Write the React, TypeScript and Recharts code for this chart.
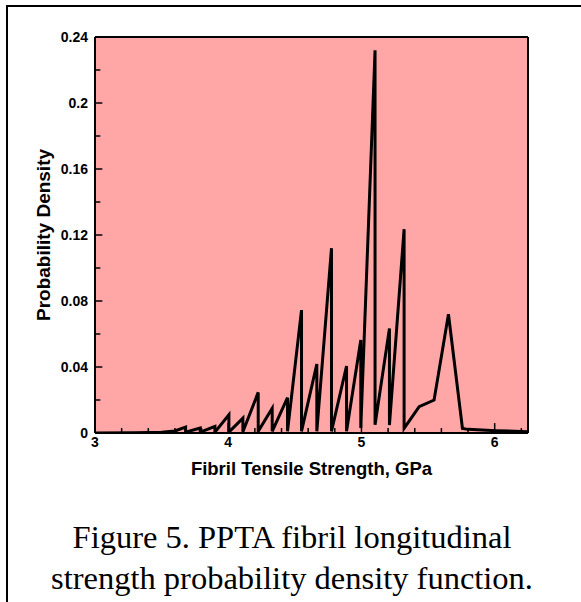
import React from 'react';
import { LineChart, Line, XAxis, YAxis, CartesianGrid, ReferenceLine } from 'recharts';

const strengthGPa = [
  3.0, 3.3, 3.5, 3.6, 3.68, 3.68, 3.79, 3.79, 3.9, 3.9, 4.005, 4.005, 4.11, 4.11,
  4.225, 4.225, 4.33, 4.33, 4.445, 4.445, 4.55, 4.55, 4.665, 4.665, 4.775, 4.775,
  4.888, 4.888, 4.995, 4.995, 5.102, 5.102, 5.21, 5.21, 5.32, 5.32, 5.433, 5.545,
  5.653, 5.758, 5.8, 6.01, 6.25,
];
const density = [
  0, 0.0002, 0.0005, 0.0012, 0.0036, 0.0005, 0.003, 0.0005, 0.004, 0.0005, 0.011, 0.0005,
  0.009, 0.0008, 0.0246, 0.001, 0.015, 0.001, 0.0214, 0.001, 0.0745, 0.001, 0.0418, 0.001,
  0.112, 0.001, 0.0406, 0.001, 0.0564, 0.003, 0.232, 0.005, 0.0634, 0.0048, 0.1235, 0.0028,
  0.016, 0.02, 0.072, 0.0028, 0.0022, 0.0014, 0.0008,
];

const xMajorTicks = [3, 4, 5, 6];
const xMinorTicks = [3.2, 3.4, 3.6, 3.8, 4.2, 4.4, 4.6, 4.8, 5.2, 5.4, 5.6, 5.8, 6.2];
const yMajorTicks = [0, 0.04, 0.08, 0.12, 0.16, 0.2, 0.24];
const yMinorTicks = [0.02, 0.06, 0.1, 0.14, 0.18, 0.22];
const xDomain: [number, number] = [3, 6.25];
const yDomain: [number, number] = [0, 0.24];

const xTitle = 'Fibril Tensile Strength, GPa';
const yTitle = 'Probability Density';
const captionLines = ['Figure 5. PPTA fibril longitudinal', 'strength probability density function.'];

const data = strengthGPa.map((x, i) => ({ x, y: density[i] }));

const tickStyle = {
  fontFamily: '"Liberation Sans", Arial, sans-serif',
  fontWeight: 'bold' as const,
  fontSize: 14,
  fill: '#000',
};

export default function App() {
  const yTickLenMajor = 0.055;
  const yTickLenMinor = 0.04;
  const xTickLenMajor = 0.006;
  const xTickLenMinor = 0.003;
  return (
    <div style={{ position: 'absolute', left: 0, top: 0, width: 581, height: 602, background: '#fff', overflow: 'hidden' }}>
      <div
        style={{
          position: 'absolute', left: 6, top: 5, width: 700, height: 700,
          borderTop: '2px solid #000', borderLeft: '2px solid #000',
        }}
      />
      <div style={{ position: 'absolute', left: 0, top: 0 }}>
        <LineChart width={581} height={480} data={data} margin={{ top: 37, right: 53, bottom: 0, left: 0 }}>
          <CartesianGrid fill="#FFA7A7" horizontal={false} vertical={false} />
          <XAxis
            dataKey="x"
            type="number"
            domain={xDomain}
            ticks={xMajorTicks}
            allowDataOverflow
            height={47}
            tickLine={false}
            tickSize={0}
            tickMargin={4}
            axisLine={{ stroke: '#000', strokeWidth: 2 }}
            tick={tickStyle}
            label={{
              value: xTitle, position: 'insideBottom', offset: 5,
              style: { ...tickStyle, fontSize: 18.5 },
            }}
          />
          <YAxis
            type="number"
            domain={yDomain}
            ticks={yMajorTicks}
            allowDataOverflow
            width={95}
            tickLine={false}
            tickSize={0}
            tickMargin={7}
            axisLine={{ stroke: '#000', strokeWidth: 2 }}
            tick={tickStyle}
            label={{
              value: yTitle, angle: -90, position: 'insideLeft', offset: 43,
              style: { ...tickStyle, fontSize: 19, textAnchor: 'middle' },
            }}
          />
          {yMajorTicks.map((v) => (
            <ReferenceLine key={'ym' + v} ifOverflow="visible" stroke="#000" strokeWidth={1.5}
              segment={[{ x: xDomain[0], y: v }, { x: xDomain[0] + yTickLenMajor, y: v }]} />
          ))}
          {yMinorTicks.map((v) => (
            <ReferenceLine key={'yn' + v} ifOverflow="visible" stroke="#000" strokeWidth={1.5}
              segment={[{ x: xDomain[0], y: v }, { x: xDomain[0] + yTickLenMinor, y: v }]} />
          ))}
          {xMajorTicks.map((v) => (
            <ReferenceLine key={'xm' + v} ifOverflow="visible" stroke="#000" strokeWidth={1.5}
              segment={[{ x: v, y: yDomain[0] }, { x: v, y: yDomain[0] + xTickLenMajor }]} />
          ))}
          {xMinorTicks.map((v) => (
            <ReferenceLine key={'xn' + v} ifOverflow="visible" stroke="#000" strokeWidth={1.5}
              segment={[{ x: v, y: yDomain[0] }, { x: v, y: yDomain[0] + xTickLenMinor }]} />
          ))}
          <ReferenceLine ifOverflow="visible" stroke="#000" strokeWidth={2}
            segment={[{ x: xDomain[0], y: yDomain[1] }, { x: xDomain[1], y: yDomain[1] }]} />
          <ReferenceLine ifOverflow="visible" stroke="#000" strokeWidth={2}
            segment={[{ x: xDomain[1], y: yDomain[0] }, { x: xDomain[1], y: yDomain[1] }]} />
          <Line
            dataKey="y"
            type="linear"
            stroke="#000"
            strokeWidth={3}
            dot={false}
            activeDot={false}
            isAnimationActive={false}
          />
        </LineChart>
      </div>
      {captionLines.map((t, i) => (
        <div
          key={i}
          style={{
            position: 'absolute', left: 0, width: 584, top: 518 + i * 41, textAlign: 'center',
            fontFamily: '"Liberation Serif", "Times New Roman", serif', fontSize: 32.5, lineHeight: '38px', color: '#000',
            whiteSpace: 'nowrap',
          }}
        >
          {t}
        </div>
      ))}
    </div>
  );
}
